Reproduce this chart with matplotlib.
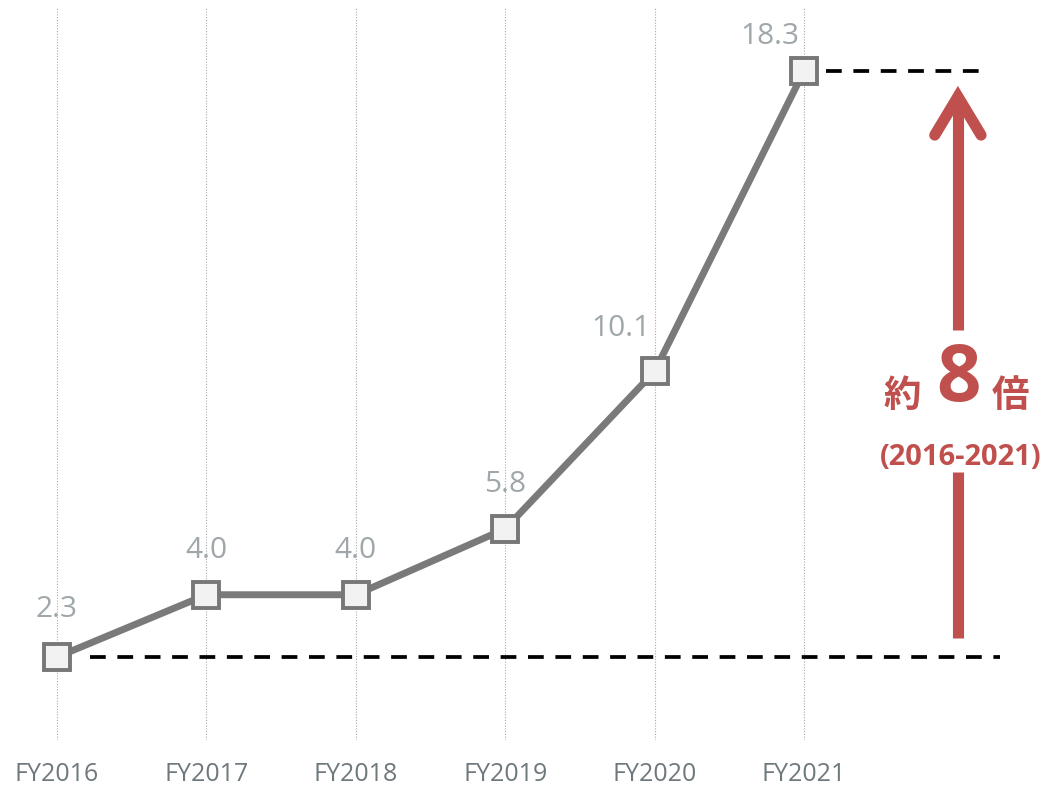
import matplotlib.pyplot as plt

# fiscal years and values
years = ["FY2016", "FY2017", "FY2018", "FY2019", "FY2020", "FY2021"]
values = [2.3, 4.0, 4.0, 5.8, 10.1, 18.3]
value_labels = ["2.3", "4.0", "4.0", "5.8", "10.1", "18.3"]
label_dx = [0, 0, 0, 0, -34, -34]   # px, nudge the long labels left
label_dy = [33, 30, 30, 30, 28, 20]  # px above the marker

red = "#c0504d"
grey_line = "#7a7a7a"
plt.rcParams["font.family"] = ["Open Sans", "Noto Sans CJK JP", "DejaVu Sans"]

fig = plt.figure(figsize=(10.48, 7.87), dpi=100)
ax = fig.add_axes([0, 47 / 787, 1, 732 / 787])
ax.set_xlim(-0.3815, 6.633)
ax.set_ylim(0.034, 20.02)

x = list(range(len(years)))

# vertical dotted grid at each year
for xi in x:
    ax.axvline(xi, color="#a8a8a8", lw=0.8, ls=(0, (1, 1.5)), zorder=0)

# reference dashes at start and end values
ax.plot([0.22, 6.31], [values[0], values[0]], color="black", lw=2.7,
        ls=(0, (4.2, 3.1)), zorder=1)
ax.plot([5.15, 6.21], [values[-1], values[-1]], color="black", lw=2.7,
        ls=(0, (4.2, 3.1)), zorder=1)

ax.plot(x, values, color=grey_line, lw=5, marker="s", markersize=18.5,
        markerfacecolor="#f2f2f2", markeredgecolor="#777777",
        markeredgewidth=2.8, zorder=3, solid_capstyle="butt")

for xi, v, lab, dx, dy in zip(x, values, value_labels, label_dx, label_dy):
    ax.annotate(lab, (xi, v), xytext=(dx, dy), textcoords="offset pixels",
                ha="center", va="bottom", fontsize=21.5, color="#a0a7ab")

# growth arrow
ax_x = 6.03
ax.plot([ax_x, ax_x], [2.82, 7.35], color=red, lw=8, solid_capstyle="butt")
ax.plot([ax_x, ax_x], [11.23, 17.6], color=red, lw=8, solid_capstyle="butt")
ax.plot([ax_x - 0.155, ax_x, ax_x + 0.155], [16.55, 17.6, 16.55], color=red,
        lw=8, solid_capstyle="round", solid_joinstyle="miter")

ax.text(5.66, 9.4, "約", fontsize=27, color=red, fontweight="bold",
        ha="center", va="center")
ax.text(6.035, 9.86, "8", fontsize=56, color=red, fontweight="bold",
        ha="center", va="center")
ax.text(6.385, 9.4, "倍", fontsize=27, color=red, fontweight="bold",
        ha="center", va="center")
ax.text(6.05, 7.75, "(2016-2021)", fontsize=21, color=red, fontweight="bold",
        ha="center", va="center")

ax.set_xticks(x)
ax.set_xticklabels(years, fontsize=18, color="#6f787d")
ax.tick_params(axis="x", length=0, pad=16)
ax.set_yticks([])
for s in ax.spines.values():
    s.set_visible(False)

fig.savefig("out.png", dpi=100)
